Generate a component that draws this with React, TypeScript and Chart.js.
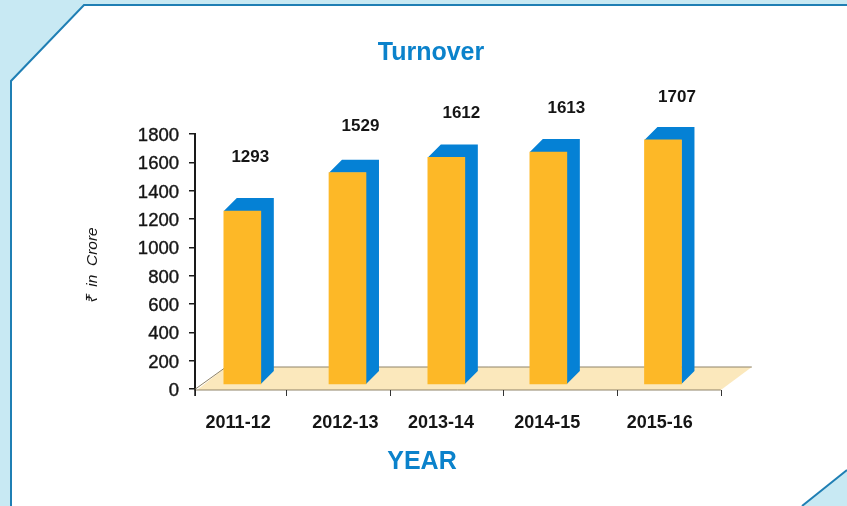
import React, { useEffect, useRef } from "react";
import { Chart, registerables } from "chart.js";

Chart.register(...registerables);

// Data
const categories = ["2011-12", "2012-13", "2013-14", "2014-15", "2015-16"];
const printedTurnover = [1293, 1529, 1612, 1613, 1707];
const barTopsOnAxis = [1256, 1527, 1635, 1673, 1758];
const barFootOnAxis = 35;
const yTicksStep = 200;
const yMax = 1800;

// Horizontal placement, in slots of the x scale (the source spaces them unevenly)
const barSlots = [0.45, 1.45, 2.39, 3.36, 4.45];
const labelSlots = [0.41, 1.43, 2.34, 3.35, 4.42];
const tickSlots = [0, 0.87, 1.85, 2.93, 4.01, 5];
const xSlotMax = 6.2;

const FONT = '"Liberation Sans", Arial, sans-serif';
const BLUE_TEXT = "#0B82CB";
const INK = "#151515";
const DEPTH = 13;
const VALUE_NUDGE = [
  [8, -54],
  [13, -46],
  [15, -44],
  [18, -44],
  [14, -43],
];

const scene3d = {
  id: "scene3d",
  beforeDraw(chart: any) {
    const { ctx, width, height } = chart;
    ctx.save();
    ctx.fillStyle = "#FFFFFF";
    ctx.fillRect(0, 0, width, height);
    // top-left panel corner
    ctx.fillStyle = "#C8E9F3";
    ctx.beginPath();
    ctx.moveTo(0, 0);
    ctx.lineTo(width, 0);
    ctx.lineTo(width, 5);
    ctx.lineTo(84, 5);
    ctx.lineTo(11, 81);
    ctx.lineTo(11, height);
    ctx.lineTo(0, height);
    ctx.closePath();
    ctx.fill();
    // bottom-right corner
    ctx.beginPath();
    ctx.moveTo(802, height);
    ctx.lineTo(width, 470);
    ctx.lineTo(width, height);
    ctx.closePath();
    ctx.fill();
    ctx.strokeStyle = "#1F7FB4";
    ctx.lineWidth = 2;
    ctx.beginPath();
    ctx.moveTo(width, 5);
    ctx.lineTo(84, 5);
    ctx.lineTo(11, 81);
    ctx.lineTo(11, height);
    ctx.moveTo(802, height);
    ctx.lineTo(width, 470);
    ctx.stroke();
    ctx.restore();
  },
  beforeDatasetsDraw(chart: any) {
    const { ctx, scales } = chart;
    const x = scales.x;
    const y0 = scales.y.getPixelForValue(0);
    const front = y0 + 1;
    const back = y0 - 22;
    const xl = x.left + 2;
    const xr = x.getPixelForValue(5);
    ctx.save();
    // floor
    ctx.fillStyle = "#FBE8BC";
    ctx.beginPath();
    ctx.moveTo(xl, front);
    ctx.lineTo(xl + 29, back);
    ctx.lineTo(xr + 31, back);
    ctx.lineTo(xr, front);
    ctx.closePath();
    ctx.fill();
    ctx.lineWidth = 1;
    ctx.strokeStyle = "#8F8368";
    ctx.beginPath();
    ctx.moveTo(xl - 3, front);
    ctx.lineTo(xr, front);
    ctx.moveTo(xl + 29, back);
    ctx.lineTo(xr + 31, back);
    ctx.moveTo(xl - 3, front);
    ctx.lineTo(xl + 29, back);
    ctx.stroke();
    // x tick marks and the axis foot
    ctx.strokeStyle = "#333333";
    ctx.lineWidth = 1;
    ctx.beginPath();
    for (const s of tickSlots) {
      const px = Math.round(x.getPixelForValue(s)) + 0.5;
      ctx.moveTo(px, front);
      ctx.lineTo(px, front + 6);
    }
    ctx.stroke();
    ctx.strokeStyle = "#1A1A1A";
    ctx.lineWidth = 1.5;
    ctx.beginPath();
    ctx.moveTo(x.left, y0);
    ctx.lineTo(x.left, y0 + 7);
    ctx.stroke();
    // side and top faces of each bar
    ctx.fillStyle = "#0581D5";
    for (const el of chart.getDatasetMeta(0).data) {
      const l = el.x - el.width / 2;
      const r = el.x + el.width / 2;
      ctx.beginPath();
      ctx.moveTo(l, el.y);
      ctx.lineTo(l + DEPTH, el.y - DEPTH);
      ctx.lineTo(r + DEPTH, el.y - DEPTH);
      ctx.lineTo(r + DEPTH, el.base - DEPTH);
      ctx.lineTo(r, el.base);
      ctx.lineTo(r, el.y);
      ctx.closePath();
      ctx.fill();
    }
    ctx.restore();
  },
  afterDraw(chart: any) {
    const { ctx } = chart;
    ctx.save();
    ctx.textAlign = "center";
    ctx.textBaseline = "middle";
    ctx.fillStyle = INK;
    ctx.font = `bold 17px ${FONT}`;
    chart.getDatasetMeta(0).data.forEach((el: any, i: number) => {
      ctx.fillText(String(printedTurnover[i]), el.x + VALUE_NUDGE[i][0], el.y + VALUE_NUDGE[i][1]);
    });
    ctx.fillStyle = BLUE_TEXT;
    ctx.font = `bold 25px ${FONT}`;
    ctx.fillText("YEAR", 422, 462);
    ctx.restore();
  },
};

export default function App() {
  const ref = useRef<HTMLCanvasElement | null>(null);
  useEffect(() => {
    if (!ref.current) return;
    const chart = new Chart(ref.current, {
      type: "bar",
      data: {
        datasets: [
          {
            label: "Turnover",
            data: barSlots.map((s, i) => ({ x: s, y: [barFootOnAxis, barTopsOnAxis[i]] })) as any,
            backgroundColor: "#FDB827",
            borderWidth: 0,
            barThickness: 37,
          },
        ],
      },
      plugins: [scene3d],
      options: {
        responsive: false,
        animation: false,
        layout: { padding: { left: 15, right: 0, top: 0, bottom: 0 } },
        plugins: {
          legend: { display: false },
          tooltip: { enabled: false },
          title: {
            display: true,
            text: "Turnover",
            color: BLUE_TEXT,
            font: { family: FONT, size: 25, weight: "bold" },
            padding: { top: 38, bottom: 66 },
          },
        },
        scales: {
          x: {
            type: "linear",
            min: 0,
            max: xSlotMax,
            grid: { display: false },
            border: { display: false },
            offset: false,
            afterBuildTicks(scale: any) {
              scale.ticks = labelSlots.map((value) => ({ value }));
            },
            afterFit(scale: any) {
              scale.height = 117;
            },
            ticks: {
              autoSkip: false,
              maxRotation: 0,
              minRotation: 0,
              padding: 15,
              color: INK,
              font: { family: FONT, size: 18, weight: "bold" },
              callback: (_v: any, i: number) => categories[i],
            },
          },
          y: {
            min: 0,
            max: yMax,
            grid: {
              drawOnChartArea: false,
              drawTicks: true,
              tickLength: 6,
              color: "#1A1A1A",
              lineWidth: 1.5,
            },
            border: { display: true, color: "#1A1A1A", width: 2 },
            afterFit(scale: any) {
              scale.width = 180;
            },
            ticks: {
              stepSize: yTicksStep,
              padding: 10,
              labelOffset: 2,
              color: INK,
              textStrokeColor: INK,
              textStrokeWidth: 0.4,
              font: { family: FONT, size: 18.5 },
              callback: (v: any) => String(v),
            },
            title: {
              display: true,
              text: "₹  in  Crore  ",
              color: INK,
              font: { family: FONT, size: 15.5, style: "italic" },
              padding: { top: 68, bottom: 0 },
            },
          },
        },
      } as any,
    });
    return () => chart.destroy();
  }, []);
  return (
    <div style={{ position: "fixed", left: 0, top: 0, width: 847, height: 506 }}>
      <canvas ref={ref} width={847} height={506} style={{ display: "block" }} />
    </div>
  );
}
